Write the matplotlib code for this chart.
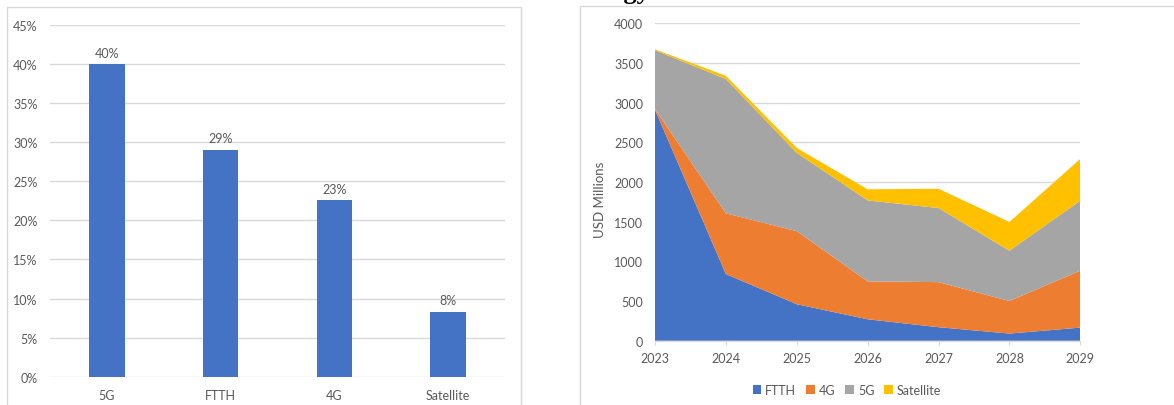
import matplotlib
matplotlib.use('Agg')
import matplotlib.pyplot as plt
from matplotlib.patches import Rectangle
from matplotlib.ticker import FuncFormatter

plt.rcParams['font.family'] = ['Lato', 'DejaVu Sans']

# left chart: share by technology
techs = ['5G', 'FTTH', '4G', 'Satellite']
shares = [0.40, 0.29, 0.226, 0.083]
share_labels = ['40%', '29%', '23%', '8%']

# right chart: spend by year, USD millions
years = [2023, 2024, 2025, 2026, 2027, 2028, 2029]
ftth = [2910, 840, 460, 270, 170, 90, 165]
g4 = [10, 765, 920, 478, 568, 410, 718]
g5 = [740, 1693, 987, 1020, 934, 634, 882]
sat = [12, 40, 62, 140, 243, 362, 526]

BLUE = '#4472C4'
ORANGE = '#ED7D31'
GRAY = '#A5A5A5'
GOLD = '#FFC000'
TXT = '#595959'
GRID = '#D9D9D9'

W, H = 1174, 406
fig = plt.figure(figsize=(W / 100, H / 100), dpi=100)


def px_axes(left, top, right, bottom):
    return fig.add_axes([left / W, 1 - bottom / H, (right - left) / W, (bottom - top) / H])


# panel frames (bottom and right edge of the second one run off the image)
fig.patches.append(Rectangle((7 / W, -0.05), (521 - 7) / W, 1 - 8 / H + 0.05,
                             transform=fig.transFigure, fill=False, edgecolor=GRID, lw=1))
fig.patches.append(Rectangle((580 / W, -0.05), 1.0, 1 - 7 / H + 0.05,
                             transform=fig.transFigure, fill=False, edgecolor=GRID, lw=1))

# cropped heading above the right panel, only the descenders show
fig.text(650 / W, 1 + 0.5 / H, 'Technology', ha='right', va='baseline',
         fontsize=19, fontweight='bold', family='Liberation Serif', color='black')

# ---- left: bar chart
ax1 = px_axes(50, 26, 505, 377.7)
x = range(len(techs))
ax1.bar(x, shares, width=0.31, color=BLUE, zorder=3)
for xi, v, lab in zip(x, shares, share_labels):
    ax1.annotate(lab, (xi, v), xytext=(0, 4), textcoords='offset points',
                 ha='center', va='bottom', fontsize=9, color=TXT)
ax1.set_xlim(-0.5, 3.5)
ax1.set_ylim(0, 0.45)
ax1.set_yticks([i * 0.05 for i in range(10)])
ax1.yaxis.set_major_formatter(FuncFormatter(lambda v, p: f'{v * 100:.0f}%'))
ax1.set_xticks(list(x))
ax1.set_xticklabels(techs)
ax1.grid(axis='y', color=GRID, lw=1, zorder=0)
for s in ax1.spines.values():
    s.set_visible(False)
ax1.tick_params(axis='both', length=0, colors=TXT, labelsize=9)
ax1.tick_params(axis='y', pad=9)
ax1.tick_params(axis='x', pad=9)

# ---- right: stacked area
ax2 = px_axes(655, 24.3, 1080.3, 341.7)
ax2.stackplot(years, ftth, g4, g5, sat, colors=[BLUE, ORANGE, GRAY, GOLD],
              labels=['FTTH', '4G', '5G', 'Satellite'], zorder=3)
ax2.set_xlim(2023, 2029)
ax2.set_ylim(0, 4000)
ax2.set_xticks(years)
ax2.set_yticks(range(0, 4001, 500))
ax2.grid(axis='y', color=GRID, lw=1, zorder=0)
for k in ['top', 'right', 'left']:
    ax2.spines[k].set_visible(False)
ax2.spines['bottom'].set_color(GRID)
ax2.spines['bottom'].set_zorder(4)
ax2.tick_params(axis='y', length=0, colors=TXT, labelsize=9, pad=8.5)
ax2.tick_params(axis='x', length=3, color=GRID, labelcolor=TXT, labelsize=9, pad=5)
ax2.set_ylabel('USD Millions', fontsize=9.5, color=TXT)
ax2.yaxis.set_label_coords(-0.116, 0.446)
ax2.legend(loc='center', bbox_to_anchor=(847 / W, 1 - 391 / H), bbox_transform=fig.transFigure,
           ncol=4, frameon=False, fontsize=9, handlelength=0.7, handleheight=0.7,
           handletextpad=0.3, columnspacing=0.8, labelcolor=TXT)

fig.savefig('out.png', dpi=100)
